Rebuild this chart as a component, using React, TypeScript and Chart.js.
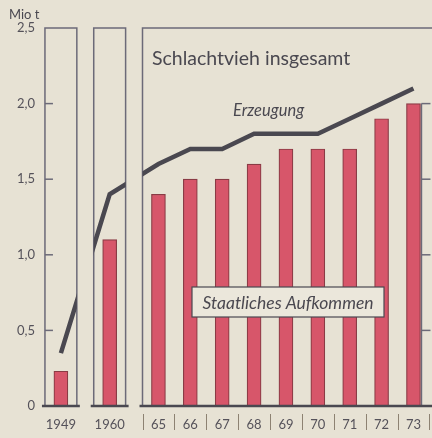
import React, { useEffect, useRef } from "react";
import { Chart, registerables } from "chart.js";

Chart.register(...registerables);

// ---- data ----
const GROUPS: string[][] = [["1949"], ["1960"], ["65", "66", "67", "68", "69", "70", "71", "72", "73"]];
const AUFKOMMEN: number[] = [0.23, 1.1, 1.4, 1.5, 1.5, 1.6, 1.7, 1.7, 1.7, 1.9, 2.0];
const ERZEUGUNG: number[] = [0.35, 1.4, 1.6, 1.7, 1.7, 1.8, 1.8, 1.8, 1.9, 2.0, 2.1];
const Y_TICKS: number[] = [0, 0.5, 1.0, 1.5, 2.0, 2.5];
const TITLE = "Schlachtvieh insgesamt";
const LINE_LABEL = "Erzeugung";
const BAR_LABEL = "Staatliches Aufkommen";
const UNIT = "Mio t";

// ---- layout helpers ----
const GAP = 0.53;
const LABELS: string[] = [];
const POS: number[] = [];
const GROUP_OF: number[] = [];
GROUPS.forEach((g, gi) => {
  g.forEach((lab) => {
    POS.push(LABELS.length + gi * GAP);
    LABELS.push(lab);
    GROUP_OF.push(gi);
  });
});

const BG = "#e7e2d4";
const INK = "#4a4850";
const FRAME = "#6c6a78";
const BAR_FILL = "#d7566a";
const BAR_EDGE = "#8a3b45";
const FONT = "Lato, 'DejaVu Sans', sans-serif";

function panels() {
  return GROUPS.map((_, gi) => {
    const idx = GROUP_OF.map((g, i) => (g === gi ? i : -1)).filter((i) => i >= 0);
    return { x0: POS[idx[0]] - 0.5, x1: POS[idx[idx.length - 1]] + 0.5, gi };
  });
}

const decorPlugin = {
  id: "decor",
  beforeDraw(chart: any) {
    const { ctx, width, height } = chart;
    ctx.save();
    ctx.fillStyle = BG;
    ctx.fillRect(0, 0, width, height);
    ctx.restore();
  },
  beforeDatasetsDraw(chart: any) {
    const { ctx, scales } = chart;
    const x = scales.x, y = scales.y;
    ctx.save();
    ctx.strokeStyle = FRAME;
    ctx.lineWidth = 1.5;
    const top = y.getPixelForValue(2.5);
    const bot = y.getPixelForValue(0);
    panels().forEach((p) => {
      const l = x.getPixelForValue(p.x0);
      const r = p.gi === GROUPS.length - 1 ? chart.width + 5 : x.getPixelForValue(p.x1);
      ctx.strokeRect(l, top, r - l, bot - top);
    });
    // left ticks inside first panel
    const p0 = x.getPixelForValue(panels()[0].x0);
    Y_TICKS.filter((v) => v > 0 && v < 2.5).forEach((v) => {
      const py = y.getPixelForValue(v);
      ctx.beginPath();
      ctx.moveTo(p0, py);
      ctx.lineTo(p0 + 8, py);
      ctx.stroke();
    });
    // right-side ticks
    const rx = x.getPixelForValue(POS[POS.length - 1]) + 8;
    ctx.beginPath();
    ctx.moveTo(rx, y.getPixelForValue(2.0));
    ctx.lineTo(rx, bot);
    ctx.stroke();
    Y_TICKS.filter((v) => v > 0 && v <= 2.0).forEach((v) => {
      const py = y.getPixelForValue(v);
      ctx.beginPath();
      ctx.moveTo(rx, py);
      ctx.lineTo(rx + 9, py);
      ctx.stroke();
    });
    ctx.restore();
  },
  beforeDatasetDraw(chart: any, args: any) {
    const meta = chart.getDatasetMeta(args.index);
    if (meta.type !== "line") return;
    const { ctx, scales } = chart;
    const x = scales.x, y = scales.y;
    ctx.save();
    ctx.beginPath();
    const top = y.getPixelForValue(2.5);
    const bot = y.getPixelForValue(0);
    panels().forEach((p) => {
      const l = x.getPixelForValue(p.x0);
      const r = p.gi === GROUPS.length - 1 ? chart.width + 5 : x.getPixelForValue(p.x1);
      ctx.rect(l, top, r - l, bot - top);
    });
    ctx.clip();
  },
  afterDatasetDraw(chart: any, args: any) {
    const meta = chart.getDatasetMeta(args.index);
    if (meta.type !== "line") return;
    chart.ctx.restore();
  },
  afterDatasetsDraw(chart: any) {
    const { ctx, scales } = chart;
    const x = scales.x, y = scales.y;
    const bot = y.getPixelForValue(0);
    ctx.save();
    // baselines
    ctx.strokeStyle = INK;
    ctx.lineWidth = 2.5;
    panels().forEach((p) => {
      const l = x.getPixelForValue(p.x0) - 3;
      const r = p.gi === GROUPS.length - 1 ? chart.width + 5 : x.getPixelForValue(p.x1) + 3;
      ctx.beginPath();
      ctx.moveTo(l, bot);
      ctx.lineTo(r, bot);
      ctx.stroke();
    });
    // separators under last group
    ctx.strokeStyle = "#8d8272";
    ctx.lineWidth = 1;
    POS.forEach((v, i) => {
      if (GROUP_OF[i] !== GROUPS.length - 1) return;
      [v - 0.5, v + 0.5].forEach((b) => {
        const px = Math.round(x.getPixelForValue(b)) + 0.5;
        ctx.beginPath();
        ctx.moveTo(px, bot + 8);
        ctx.lineTo(px, bot + 24);
        ctx.stroke();
      });
    });
    // unit
    ctx.fillStyle = INK;
    ctx.font = `13px ${FONT}`;
    ctx.textAlign = "left";
    ctx.textBaseline = "middle";
    ctx.fillText(UNIT, 9, 15);
    // title
    ctx.font = `19.5px ${FONT}`;
    ctx.textBaseline = "alphabetic";
    ctx.fillText(TITLE, 152, 65);
    // line label
    ctx.font = `italic 16.5px ${FONT}`;
    ctx.fillText(LINE_LABEL, 233, 116);
    // bar label box
    const bx0 = 192, by0 = 287, bw = 192, bh = 30;
    ctx.fillStyle = "#ebe7db";
    ctx.fillRect(bx0, by0, bw, bh);
    ctx.strokeStyle = INK;
    ctx.lineWidth = 1.2;
    ctx.strokeRect(bx0, by0, bw, bh);
    ctx.fillStyle = INK;
    ctx.font = `italic 17.5px ${FONT}`;
    ctx.textAlign = "center";
    ctx.textBaseline = "middle";
    ctx.fillText(BAR_LABEL, bx0 + bw / 2, by0 + bh / 2 + 1);
    ctx.restore();
  },
};

export default function App() {
  const ref = useRef<HTMLCanvasElement | null>(null);
  useEffect(() => {
    document.body.style.margin = "0";
    const canvas = ref.current!;
    const chart = new Chart(canvas, {
      type: "bar",
      data: {
        datasets: [
          {
            type: "line",
            label: LINE_LABEL,
            data: POS.map((p, i) => ({ x: p, y: ERZEUGUNG[i] })),
            borderColor: INK,
            borderWidth: 4.5,
            pointRadius: 0,
            tension: 0,
            clip: false as any,
            order: 0,
          } as any,
          {
            type: "bar",
            label: BAR_LABEL,
            data: POS.map((p, i) => ({ x: p, y: AUFKOMMEN[i] })),
            backgroundColor: BAR_FILL,
            borderColor: BAR_EDGE,
            borderWidth: { left: 1.2, right: 1.2, top: 1.2, bottom: 0 },
            borderSkipped: false,
            barThickness: 14,
            order: 1,
          } as any,
        ],
      },
      options: {
        animation: false,
        responsive: false,
        layout: { padding: { top: 28, right: 0, left: 0, bottom: 0 } },
        plugins: { legend: { display: false }, tooltip: { enabled: false } },
        scales: {
          x: {
            type: "linear",
            offset: false,
            min: -0.53,
            max: 11.57,
            grid: { display: false, drawTicks: false },
            border: { display: false },
            afterBuildTicks: (s: any) => {
              s.ticks = POS.map((v) => ({ value: v }));
            },
            afterFit: (s: any) => {
              s.height = 32;
            },
            ticks: {
              autoSkip: false,
              maxRotation: 0,
              padding: 11,
              color: "#55525a",
              font: { family: FONT, size: 13 },
              callback: (_v: any, i: number) => LABELS[i],
            },
          },
          y: {
            type: "linear",
            min: 0,
            max: 2.5,
            grid: { display: false, drawTicks: false },
            border: { display: false },
            afterBuildTicks: (s: any) => {
              s.ticks = Y_TICKS.map((v) => ({ value: v }));
            },
            afterFit: (s: any) => {
              s.width = 44;
            },
            ticks: {
              padding: 9,
              color: "#55525a",
              font: { family: FONT, size: 13 },
              callback: (v: any) => (v === 0 ? "0" : Number(v).toFixed(1).replace(".", ",")),
            },
          },
        },
      } as any,
      plugins: [decorPlugin],
    });
    return () => chart.destroy();
  }, []);
  return <canvas ref={ref} width={432} height={438} style={{ display: "block" }} />;
}
